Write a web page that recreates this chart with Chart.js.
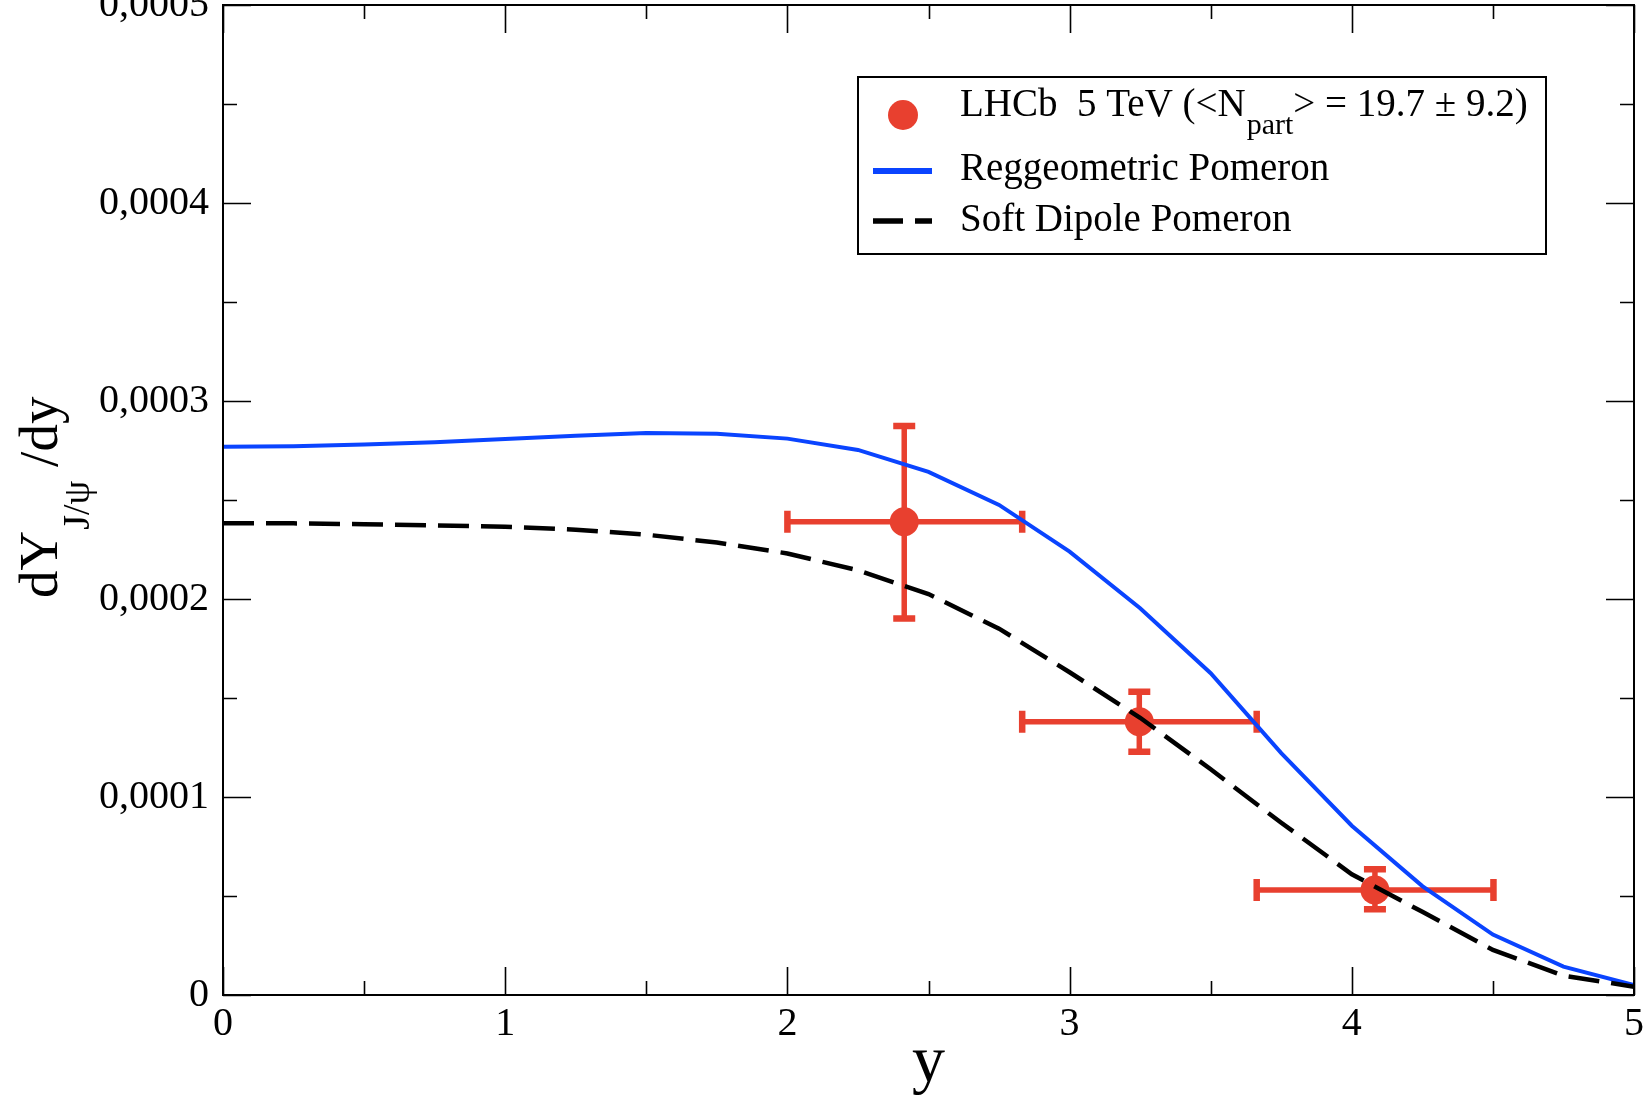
<!DOCTYPE html>
<html>
<head>
<meta charset="utf-8">
<script src="https://cdn.jsdelivr.net/npm/chart.js@4/dist/chart.umd.min.js"></script>
<style>
html,body{margin:0;padding:0;background:#ffffff;}
#wrap{width:1651px;height:1099px;}
</style>
</head>
<body>
<div id="wrap"><canvas id="c" width="1651" height="1099"></canvas></div>
<script>
// ---------- data ----------
const rapidity = [0, 0.25, 0.5, 0.75, 1, 1.25, 1.5, 1.75, 2, 2.25, 2.5, 2.75, 3, 3.25, 3.5, 3.75, 4, 4.25, 4.5, 4.75, 5];
const reggeometric = [2.769e-4, 2.772e-4, 2.780e-4, 2.792e-4, 2.808e-4, 2.824e-4, 2.838e-4, 2.835e-4, 2.810e-4, 2.753e-4, 2.642e-4, 2.475e-4, 2.239e-4, 1.953e-4, 1.625e-4, 1.222e-4, 0.855e-4, 0.550e-4, 0.305e-4, 0.143e-4, 0.050e-4];
const softDipole = [2.382e-4, 2.382e-4, 2.378e-4, 2.372e-4, 2.365e-4, 2.350e-4, 2.325e-4, 2.285e-4, 2.230e-4, 2.145e-4, 2.025e-4, 1.850e-4, 1.630e-4, 1.400e-4, 1.140e-4, 0.870e-4, 0.610e-4, 0.420e-4, 0.228e-4, 0.098e-4, 0.042e-4];

const lhcbY      = [2.414, 3.247, 4.082];
const lhcbYLow   = [2.000, 2.832, 3.663];
const lhcbYHigh  = [2.832, 3.663, 4.502];
const lhcbVal    = [2.390e-4, 1.380e-4, 0.530e-4];
const lhcbValLow = [1.902e-4, 1.229e-4, 0.433e-4];
const lhcbValHigh= [2.874e-4, 1.532e-4, 0.635e-4];

const xTickLabels = ['0', '1', '2', '3', '4', '5'];
const yTickLabels = ['0', '0,0001', '0,0002', '0,0003', '0,0004', '0,0005'];

const legendLabels = ['LHCb  5 TeV (<N', 'part', '> = 19.7 \u00B1 9.2)', 'Reggeometric Pomeron', 'Soft Dipole Pomeron'];
const yTitleParts = ['dY', 'J/\u03C8', ' /dy'];
const xTitle = 'y';

// ---------- styles ----------
const RED = '#e8402f';
const BLUE = '#0a44ff';
const FONT = '"Liberation Serif", "Times New Roman", serif';

// ---------- plugins ----------
const errorBars = {
  id: 'errorBars',
  beforeDatasetsDraw(chart) {
    const {ctx, scales: {x, y}} = chart;
    ctx.save();
    ctx.strokeStyle = RED;
    ctx.lineCap = 'butt';
    const cap = 11;
    for (let i = 0; i < lhcbY.length; i++) {
      const px = x.getPixelForValue(lhcbY[i]);
      const py = y.getPixelForValue(lhcbVal[i]);
      const xl = x.getPixelForValue(lhcbYLow[i]);
      const xh = x.getPixelForValue(lhcbYHigh[i]);
      const yl = y.getPixelForValue(lhcbValLow[i]);
      const yh = y.getPixelForValue(lhcbValHigh[i]);
      ctx.lineWidth = 5.5;
      ctx.beginPath();
      ctx.moveTo(xl, py); ctx.lineTo(xh, py);
      ctx.moveTo(px, yl); ctx.lineTo(px, yh);
      ctx.stroke();
      ctx.lineWidth = 6.5;
      ctx.beginPath();
      ctx.moveTo(xl, py - cap); ctx.lineTo(xl, py + cap);
      ctx.moveTo(xh, py - cap); ctx.lineTo(xh, py + cap);
      ctx.moveTo(px - cap, yl); ctx.lineTo(px + cap, yl);
      ctx.moveTo(px - cap, yh); ctx.lineTo(px + cap, yh);
      ctx.stroke();
    }
    ctx.restore();
  }
};

const frameTicks = {
  id: 'frameTicks',
  afterDatasetsDraw(chart) {
    const {ctx, chartArea: a, scales: {x, y}} = chart;
    ctx.save();
    ctx.strokeStyle = '#000';
    ctx.lineWidth = 2;
    ctx.strokeRect(a.left, a.top, a.right - a.left, a.bottom - a.top);
    ctx.lineWidth = 1.6;
    ctx.beginPath();
    for (let k = 0; k <= 10; k++) {
      const v = k * 0.5;
      const len = (k % 2 === 0) ? 28 : 14;
      const p = Math.round(x.getPixelForValue(v)) + 0.5;
      ctx.moveTo(p, a.bottom); ctx.lineTo(p, a.bottom - len);
      ctx.moveTo(p, a.top); ctx.lineTo(p, a.top + len);
    }
    for (let k = 0; k <= 10; k++) {
      const v = k * 0.00005;
      const len = (k % 2 === 0) ? 28 : 14;
      const p = Math.round(y.getPixelForValue(v)) + 0.5;
      ctx.moveTo(a.left, p); ctx.lineTo(a.left + len, p);
      ctx.moveTo(a.right, p); ctx.lineTo(a.right - len, p);
    }
    ctx.stroke();
    ctx.restore();
  }
};

const texts = {
  id: 'texts',
  afterDraw(chart) {
    const {ctx} = chart;
    ctx.save();
    // y-axis title with subscript (rotated)
    ctx.fillStyle = '#000';
    ctx.translate(57, 598);
    ctx.rotate(-Math.PI / 2);
    ctx.textBaseline = 'alphabetic';
    ctx.textAlign = 'left';
    ctx.font = '55px ' + FONT;
    ctx.fillText(yTitleParts[0], 0, 0);
    let w = ctx.measureText(yTitleParts[0]).width;
    ctx.font = '38px ' + FONT;
    ctx.fillText(yTitleParts[1], w + 1, 32);
    w += 1 + ctx.measureText(yTitleParts[1]).width;
    ctx.font = '55px ' + FONT;
    ctx.fillText(yTitleParts[2], w, 0);
    ctx.restore();

    // legend
    ctx.save();
    const bx = 858, by = 77, bw = 688, bh = 177;
    ctx.fillStyle = '#fff';
    ctx.fillRect(bx, by, bw, bh);
    ctx.strokeStyle = '#000';
    ctx.lineWidth = 2;
    ctx.strokeRect(bx, by, bw, bh);
    // marker
    ctx.fillStyle = RED;
    ctx.beginPath();
    ctx.arc(903, 115, 15, 0, Math.PI * 2);
    ctx.fill();
    // blue line sample
    ctx.strokeStyle = BLUE;
    ctx.lineWidth = 6;
    ctx.beginPath(); ctx.moveTo(873, 171); ctx.lineTo(932, 171); ctx.stroke();
    // dashed sample
    ctx.strokeStyle = '#000';
    ctx.lineWidth = 5.5;
    ctx.beginPath();
    ctx.moveTo(873, 221); ctx.lineTo(903, 221);
    ctx.moveTo(915, 221); ctx.lineTo(932, 221);
    ctx.stroke();
    // texts
    ctx.fillStyle = '#000';
    ctx.textBaseline = 'alphabetic';
    ctx.textAlign = 'left';
    ctx.font = '39px ' + FONT;
    let tx = 960;
    ctx.fillText(legendLabels[0], tx, 116);
    tx += ctx.measureText(legendLabels[0]).width + 1;
    ctx.font = '30px ' + FONT;
    ctx.fillText(legendLabels[1], tx, 134);
    tx += ctx.measureText(legendLabels[1]).width;
    ctx.font = '39px ' + FONT;
    ctx.fillText(legendLabels[2], tx, 116);
    ctx.fillText(legendLabels[3], 960, 180);
    ctx.fillText(legendLabels[4], 960, 231);
    ctx.restore();
  }
};

// ---------- chart ----------
const ctx = document.getElementById('c').getContext('2d');
new Chart(ctx, {
  data: {
    datasets: [
      {
        type: 'line',
        label: legendLabels[4],
        data: rapidity.map((v, i) => ({x: v, y: softDipole[i]})),
        borderColor: '#000',
        borderWidth: 4.5,
        borderDash: [31, 12],
        pointRadius: 0,
        tension: 0,
        fill: false,
        order: 1
      },
      {
        type: 'line',
        label: legendLabels[3],
        data: rapidity.map((v, i) => ({x: v, y: reggeometric[i]})),
        borderColor: BLUE,
        borderWidth: 4,
        pointRadius: 0,
        tension: 0,
        fill: false,
        order: 2
      },
      {
        type: 'scatter',
        label: 'LHCb',
        data: lhcbY.map((v, i) => ({x: v, y: lhcbVal[i]})),
        backgroundColor: RED,
        borderColor: RED,
        pointRadius: 14.5,
        pointBorderWidth: 0,
        showLine: false,
        order: 3
      }
    ]
  },
  options: {
    responsive: false,
    devicePixelRatio: 1,
    animation: false,
    layout: {autoPadding: false, padding: {top: 5, right: 17, left: 0, bottom: 0}},
    plugins: {legend: {display: false}, tooltip: {enabled: false}, title: {display: false}},
    scales: {
      x: {
        type: 'linear',
        min: 0, max: 5,
        grid: {display: false, drawTicks: false},
        border: {display: false},
        ticks: {
          stepSize: 1,
          autoSkip: false,
          maxRotation: 0,
          padding: 5,
          color: '#000',
          font: {family: FONT, size: 40},
          callback: (v) => xTickLabels[Math.round(v)]
        },
        title: {
          display: true,
          text: xTitle,
          color: '#000',
          font: {family: FONT, size: 66},
          padding: {top: 0, bottom: -4}
        },
        afterFit(s) { s.height = 104; s.paddingLeft = 0; s.paddingRight = 0; }
      },
      y: {
        type: 'linear',
        min: 0, max: 0.0005,
        grid: {display: false, drawTicks: false},
        border: {display: false},
        ticks: {
          stepSize: 0.0001,
          autoSkip: false,
          padding: 14,
          color: '#000',
          font: {family: FONT, size: 40},
          callback: (v) => yTickLabels[Math.round(v / 0.0001)]
        },
        afterFit(s) { s.width = 223; s.paddingTop = 0; s.paddingBottom = 0; }
      }
    }
  },
  plugins: [errorBars, frameTicks, texts]
});
</script>
</body>
</html>
